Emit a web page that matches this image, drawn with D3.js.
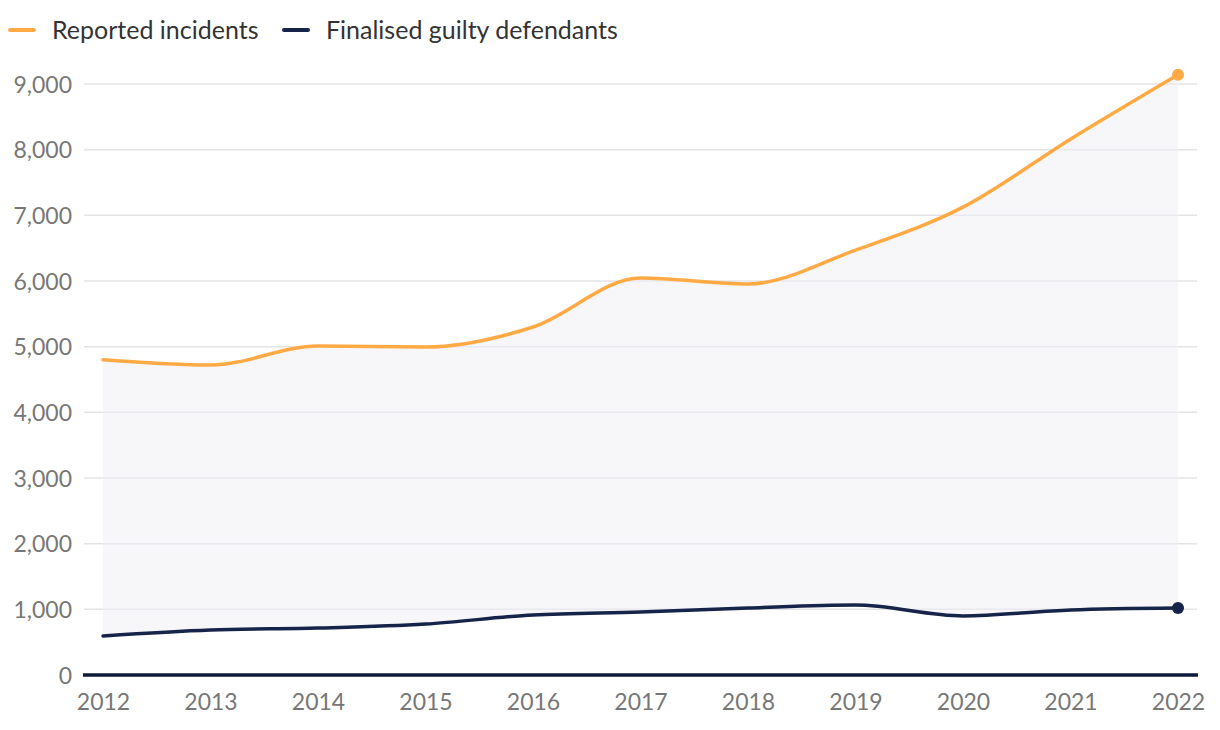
<!DOCTYPE html>
<html>
<head>
<meta charset="utf-8">
<script src="https://cdn.jsdelivr.net/npm/d3@7"></script>
<style>
  html, body { margin: 0; padding: 0; background: #fff; }
  svg { display: block; font-family: "Lato", "Open Sans", sans-serif; }
</style>
</head>
<body>
<svg id="chart" width="1220" height="730"></svg>
<script>
const years = [2012, 2013, 2014, 2015, 2016, 2017, 2018, 2019, 2020, 2021, 2022];
const reportedIncidents = [4800, 4720, 5010, 4995, 5300, 6045, 5955, 6470, 7125, 8160, 9140];
const finalisedGuilty = [594, 685, 715, 775, 915, 960, 1020, 1065, 900, 990, 1020];
const yTicks = [0, 1000, 2000, 3000, 4000, 5000, 6000, 7000, 8000, 9000];
const seriesNames = ["Reported incidents", "Finalised guilty defendants"];
const seriesColors = ["#ffaa45", "#17244a"];

const svg = d3.select("#chart");
const x = d3.scalePoint().domain(years).range([103, 1178]);
const y = d3.scaleLinear().domain([0, 9000]).range([675, 84]);

const tickColor = "#777";

// Gridlines
const grid = svg.append("g");
grid.selectAll("line").data(yTicks.filter(d => d > 0)).join("line")
  .attr("x1", 84).attr("x2", 1197)
  .attr("y1", d => y(d)).attr("y2", d => y(d))
  .attr("stroke", "#e4e4e6").attr("stroke-width", 1.5);

// Area between series
const combined = years.map((yr, i) => ({ yr, a: reportedIncidents[i], b: finalisedGuilty[i] }));
const area = d3.area().curve(d3.curveMonotoneX)
  .x(d => x(d.yr)).y0(d => y(d.b)).y1(d => y(d.a));
svg.append("path").datum(combined).attr("d", area)
  .attr("fill", "#f0f0f6").attr("fill-opacity", 0.5);

// Y axis labels
const yAxis = d3.axisLeft(y).tickValues(yTicks).tickFormat(d3.format(",")).tickSize(0).tickPadding(0);
const yg = svg.append("g").attr("transform", "translate(72,0)").call(yAxis);
yg.select(".domain").remove();
yg.selectAll("text").attr("fill", tickColor).attr("font-size", 23).attr("font-family", "Lato, sans-serif").attr("dy", "0.36em");

// X axis labels
const xAxis = d3.axisBottom(x).tickSize(0).tickPadding(0);
const xg = svg.append("g").attr("transform", "translate(0,694)").call(xAxis);
xg.select(".domain").remove();
xg.selectAll("text").attr("fill", tickColor).attr("font-size", 23).attr("font-family", "Lato, sans-serif").attr("dy", "0.71em");

// Baseline
svg.append("line").attr("x1", 83).attr("x2", 1198).attr("y1", y(0)).attr("y2", y(0))
  .attr("stroke", "#0f1a3a").attr("stroke-width", 3.5);

// Lines
const line = d3.line().curve(d3.curveMonotoneX).x((d, i) => x(years[i])).y(d => y(d));
[reportedIncidents, finalisedGuilty].forEach((s, i) => {
  svg.append("path").datum(s).attr("d", line)
    .attr("fill", "none").attr("stroke", seriesColors[i]).attr("stroke-width", 3.5)
    .attr("stroke-linecap", "round");
  svg.append("circle").attr("cx", x(years[years.length - 1])).attr("cy", y(s[s.length - 1]))
    .attr("r", 6).attr("fill", seriesColors[i]);
});

// Legend
const legend = svg.append("g");
const legendPos = [10, 284];
seriesNames.forEach((n, i) => {
  const g = legend.append("g").attr("transform", `translate(${legendPos[i]},30)`);
  g.append("line").attr("x1", 0).attr("x2", 24).attr("y1", 0).attr("y2", 0)
    .attr("stroke", seriesColors[i]).attr("stroke-width", 4).attr("stroke-linecap", "round");
  g.append("text").attr("x", 42).attr("y", 0).attr("dy", "0.35em")
    .attr("fill", "#333").attr("font-size", 25).attr("font-family", "Lato, sans-serif").text(n);
});
</script>
</body>
</html>
